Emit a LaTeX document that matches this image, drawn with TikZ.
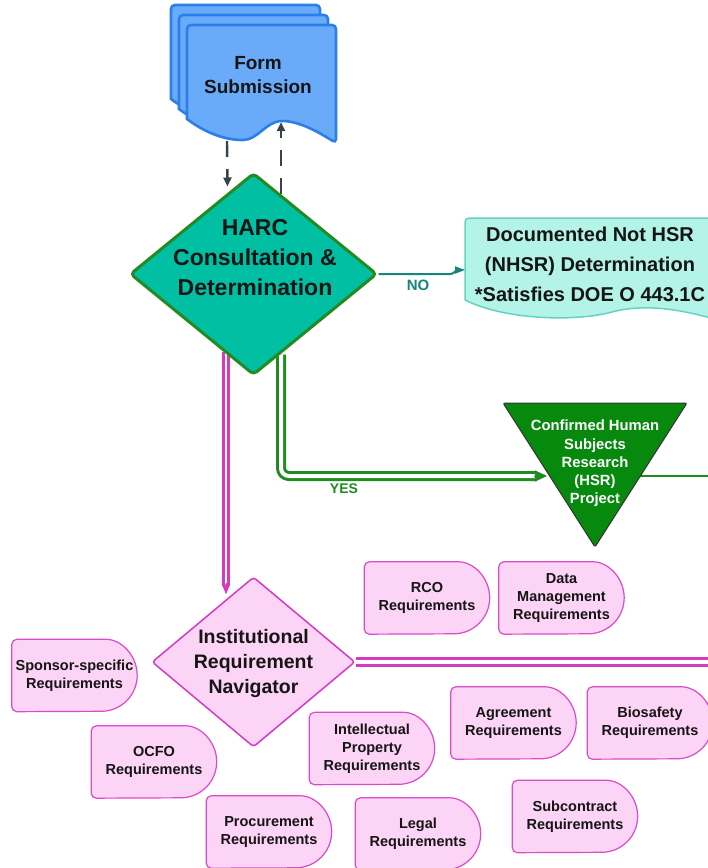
\documentclass[tikz,border=0pt]{standalone}
\usepackage{fontspec}
\setmainfont{Liberation Sans}
\usetikzlibrary{shapes.geometric,arrows.meta,calc,backgrounds}

\definecolor{docfill}{HTML}{6AABF9}
\definecolor{docline}{HTML}{2A7FEA}
\definecolor{harcfill}{HTML}{00BFA3}
\definecolor{harcline}{HTML}{238B22}
\definecolor{noline}{HTML}{17867A}
\definecolor{nhsrfill}{HTML}{B4F3E8}
\definecolor{nhsrline}{HTML}{66D2C2}
\definecolor{hsrfill}{HTML}{07890E}
\definecolor{yesgreen}{HTML}{1E8C1E}
\definecolor{pinkfill}{HTML}{FCD4F5}
\definecolor{pinkline}{HTML}{D94BC8}
\definecolor{magline}{HTML}{D63AC0}
\definecolor{darkarrow}{HTML}{38434E}
\definecolor{txt}{HTML}{151515}

\newcommand{\myfs}[2]{\fontsize{#1pt}{#2pt}\selectfont}

\begin{document}
\begin{tikzpicture}[x=1pt,y=-1pt,
  lbl/.style={align=center, font=\bfseries, text=txt, inner sep=0pt},
  req/.style={lbl, font=\myfs{14.5}{18}\bfseries, minimum width=125pt, minimum height=72pt},
  reqshape/.style={fill=pinkfill, draw=pinkline, line width=1.2pt},
  doc/.style={fill=docfill, draw=docline, line width=2.6pt},
  dasharrow/.style={draw=darkarrow, line width=2.4pt, dash pattern=on 16pt off 12pt, -{Triangle[length=9pt,width=8pt]}},
]
\useasboundingbox (0,0) rectangle (708,868);

% Form submission stack
\foreach \dx/\dy in {-16/-20,-8/-10,0/0} {
  \path[doc, shift={(\dx,\dy)}] (336,143)
    .. controls (320,133) and (300,121) .. (282,121)
    .. controls (266,121) and (258,140) .. (243,140)
    .. controls (222,140) and (203,131) .. (187,119)
    [rounded corners=4pt] -- (187,25) -- (336,25) -- cycle;
}
\node[lbl, font=\myfs{19}{24}\bfseries] (form) at (258,75) {Form\\Submission};

% HARC diamond
\node[diamond, fill=harcfill, draw=harcline, line width=3pt, minimum width=247pt, minimum height=202pt, inner sep=0pt, rounded corners=4pt] (harc) at (253.5,274) {};
\node[lbl, font=\myfs{23}{30}\bfseries] (harctext) at (255,258) {HARC\\Consultation \&\\Determination};

% NHSR document
\path[fill=nhsrfill, draw=nhsrline, line width=1.5pt, rounded corners=4pt]
  (465,300) -- (465,218) -- (725,218) -- (725,322) [sharp corners]
  .. controls (690,312) and (650,302) .. (612,312)
  .. controls (575,322) and (505,320) .. (465,300) -- cycle;
\node[lbl, font=\myfs{20}{30}\bfseries] (nhsr) at (590,264) {Documented Not HSR\\(NHSR) Determination\\*Satisfies DOE O 443.1C};

% HSR triangle
\path[fill=hsrfill, draw=black!80, line width=1pt, rounded corners=2pt] (503,403) -- (687,403) -- (595,547) -- cycle;
\node[lbl, text=white, font=\myfs{14.8}{18.2}\bfseries] (hsr) at (595,463.5) {Confirmed Human\\Subjects\\Research\\(HSR)\\Project};

% Institutional Requirement Navigator
\node[diamond, fill=pinkfill, draw=magline, line width=1.5pt, minimum width=203pt, minimum height=170pt, inner sep=0pt, rounded corners=3pt] (irn) at (253.5,662) {};
\node[lbl, font=\myfs{19.5}{25}\bfseries] (irntext) at (253.5,663) {Institutional\\Requirement\\Navigator};

% Requirement boxes
\node[req] (rco) at (427,598) {RCO\\Requirements};
\node[req] (data) at (561.5,598) {Data\\Management\\Requirements};
\node[req] (sponsor) at (74.5,675.5) {Sponsor-specific\\Requirements};
\node[req] (ocfo) at (154,762) {OCFO\\Requirements};
\node[req] (proc) at (269,832) {Procurement\\Requirements};
\node[req] (ip) at (372,748.5) {Intellectual\\Property\\Requirements};
\node[req] (agree) at (513.5,723) {Agreement\\Requirements};
\node[req] (bio) at (650,723) {Biosafety\\Requirements};
\node[req] (legal) at (418,834) {Legal\\Requirements};
\node[req] (sub) at (575,816.5) {Subcontract\\Requirements};

% Labels
\node[font=\myfs{15}{15}\bfseries, text=noline, inner sep=0pt] (no) at (418,285) {NO};
\node[font=\myfs{14}{14}\bfseries, text=yesgreen, inner sep=0pt] (yes) at (344,489) {YES};

\coordinate (pinkend) at (730,661);
\coordinate (greenend) at (730,476);

\begin{pgfonlayer}{background}
  \fill[white] (0,0) rectangle (708,868);
  \foreach \n in {rco,data,sponsor,ocfo,proc,ip,agree,bio,legal,sub} {
    \path[reqshape] ($(\n.north east)+(-36,0)$) arc[start angle=90,end angle=-90,radius=36pt]
      [rounded corners=5pt] -- (\n.south west) -- (\n.north west) -- cycle;
  }
  % dashed arrows between form and HARC
  \draw[dasharrow] ($(form.center)+(-31,66)$) -- ($(harc.north)+(-26,15)$);
  \draw[dasharrow] ($(harc.north)+(27.5,22)$) -- ($(form.center)+(23,47)$);
  % NO
  \draw[draw=noline, line width=2pt, -{Triangle[length=10pt,width=7pt]}]
    (harc.east) -- ($(harc.east)+(72,0)$) to[out=0,in=180] ($(harc.east)+(80,-4)$) -- ($(nhsr.center)+(-125,6)$);
  % YES
  \draw[draw=yesgreen, line width=3pt, double=white, double distance=4pt, rounded corners=8pt]
    ($(harc.south)+(27.5,-22)$) |- ($(hsr.center)+(-58,12.5)$);
  \draw[yesgreen, line width=1pt, -{Triangle[length=12pt,width=11pt]}]
    ($(hsr.center)+(-61,12.5)$) -- ($(hsr.center)+(-48,12.5)$);
  \draw[yesgreen, line width=2pt] ($(hsr.center)+(42,12.5)$) -- (greenend);
  \fill[darkarrow] ($(hsr.center)+(42,12.5)$) circle[radius=1.5pt];
  % pink to IRN
  \draw[draw=magline, line width=2.5pt, double=white, double distance=2.5pt]
    ($(harc.south)+(-27.5,-25)$) -- ($(irn.north)+(-27.5,10)$);
  \draw[magline, line width=1pt, -{Triangle[length=10pt,width=8pt]}]
    ($(irn.north)+(-27.5,7)$) -- ($(irn.north)+(-27.5,18)$);
  % pink horizontal from IRN
  \draw[draw=magline, line width=3pt, double=white, double distance=3.5pt] (irn.east) -- (irn.east -| pinkend);
\end{pgfonlayer}
\end{tikzpicture}
\end{document}
